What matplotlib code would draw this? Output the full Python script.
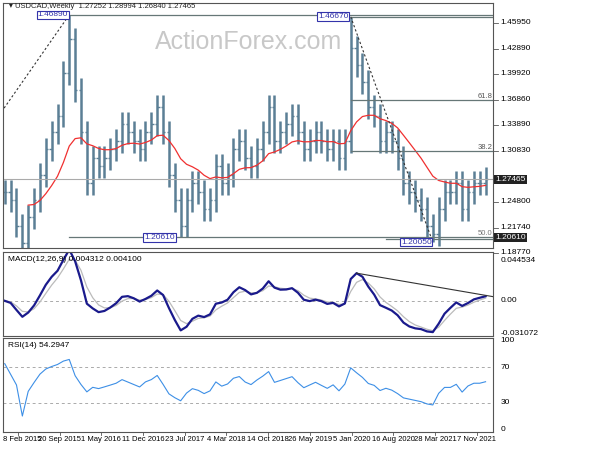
import matplotlib
matplotlib.use("Agg")
import matplotlib.pyplot as plt
import numpy as np
import pandas as pd

plt.rcParams['font.family'] = ['Liberation Sans', 'DejaVu Sans']

closes = [1.26,1.25,1.22,1.20,1.23,1.25,1.28,1.31,1.33,1.35,1.40,1.44,1.38,1.33,1.27,1.30,
          1.29,1.30,1.31,1.32,1.34,1.33,1.32,1.31,1.33,1.34,1.36,1.33,1.28,1.25,1.22,1.25,
          1.27,1.26,1.24,1.25,1.29,1.27,1.28,1.31,1.32,1.30,1.29,1.31,1.33,1.36,1.32,1.33,
          1.34,1.35,1.33,1.31,1.32,1.33,1.32,1.31,1.32,1.30,1.32,1.43,1.41,1.39,1.36,1.35,
          1.32,1.33,1.32,1.30,1.27,1.26,1.25,1.24,1.22,1.21,1.24,1.26,1.26,1.27,1.24,1.26,
          1.27,1.27,1.27465]
date_labels = ["8 Feb 2015","20 Sep 2015","1 May 2016","11 Dec 2016","23 Jul 2017","4 Mar 2018",
               "14 Oct 2018","26 May 2019","5 Jan 2020","16 Aug 2020","28 Mar 2021","7 Nov 2021"]
price_ticks = [1.45950,1.42890,1.39920,1.36860,1.33890,1.30830,1.27465,1.24800,1.21740,1.20610,1.18770]

c = np.array(closes)
o = np.r_[c[0], c[:-1]]
wick = 0.014
hi = np.maximum(o, c) + wick
lo = np.minimum(o, c) - wick
hi[11] = 1.4689; hi[59] = 1.4667; lo[30] = 1.2061; lo[73] = 1.2005; lo[3] = 1.192
n = len(c)
x = np.arange(n)
s = pd.Series(c)
ma = s.ewm(span=14, adjust=False).mean()
macd = s.ewm(span=4, adjust=False).mean() - s.ewm(span=9, adjust=False).mean()
sig = macd.ewm(span=3, adjust=False).mean()
d = s.diff().fillna(0)
up = d.clip(lower=0).ewm(alpha=1/7, adjust=False).mean()
dn = (-d.clip(upper=0)).ewm(alpha=1/7, adjust=False).mean()
rsi = 100 - 100/(1+up/(dn+1e-9))
rsi = 50 + (rsi - 50) * 0.7
rsi[0:3] = [74, 62, 50]

fig = plt.figure(figsize=(6, 4.5), dpi=100)
L, W = 0.005, 0.817
ax1 = fig.add_axes([L, 0.449, W, 0.544])
ax2 = fig.add_axes([L, 0.253, W, 0.187])
ax3 = fig.add_axes([L, 0.04, W, 0.209])
xl = (-0.3, n + 0.3)
bc = "#5b7f95"
for ax in (ax1, ax2, ax3):
    ax.set_xlim(*xl)
    ax.set_xticks([]); ax.set_yticks([])
    for sp in ax.spines.values():
        sp.set_color("#555555"); sp.set_linewidth(0.8)

ylo, yhi = 1.1936, 1.4828
ax1.set_ylim(ylo, yhi)
ax1.vlines(x, lo, hi, color=bc, lw=1.8)
ax1.hlines(o, x - 0.4, x, color=bc, lw=1)
ax1.hlines(c, x, x + 0.4, color=bc, lw=1)
ax1.plot(x[4:], ma[4:], color="#f03030", lw=0.9)
ax1.axhline(1.27465, color="#aaaaaa", lw=0.8)
ax1.plot([11, n + 1], [1.4689, 1.4689], color="#667777", lw=0.9)
ax1.plot([59, n + 1], [1.4667, 1.4667], color="#667777", lw=0.9)
ax1.plot([59, n + 1], [1.3686, 1.3686], color="#667777", lw=0.9)
ax1.plot([59, n + 1], [1.3083, 1.3083], color="#667777", lw=0.9)
ax1.plot([11, n + 1], [1.2061, 1.2061], color="#667777", lw=0.9)
ax1.plot([65, n + 1], [1.2045, 1.2045], color="#667777", lw=0.9)
ax1.plot([-1, 11], [1.35, 1.4689], color="#333333", lw=0.8, ls=(0, (2, 2)))
ax1.plot([59, 73], [1.4667, 1.2005], color="#333333", lw=0.8, ls=(0, (2, 2)))
bb = dict(boxstyle="square,pad=0.1", fc="white", ec="#3333aa", lw=0.8)
ax1.text(10.8, 1.4689, "1.46890", ha="right", va="center", fontsize=6, color="#3333aa", bbox=bb)
ax1.text(58.6, 1.4667, "1.46670", ha="right", va="center", fontsize=6, color="#3333aa", bbox=bb)
ax1.text(29, 1.2061, "1.20610", ha="right", va="center", fontsize=6, color="#3333aa", bbox=bb)
ax1.text(72.8, 1.2005, "1.20050", ha="right", va="center", fontsize=6, color="#3333aa", bbox=bb)
ax1.text(n + 0.2, 1.3686, "61.8", ha="right", va="bottom", fontsize=5.5, color="#555555")
ax1.text(n + 0.2, 1.3083, "38.2", ha="right", va="bottom", fontsize=5.5, color="#555555")
ax1.text(n + 0.2, 1.2061, "50.0", ha="right", va="bottom", fontsize=5.5, color="#777777")
ax1.text(0.5, 0.84, "ActionForex.com", transform=ax1.transAxes, ha="center", va="center",
         fontsize=18, color="#c8c8c8")
ax1.text(0.012, 1.0, "\u25be USDCAD,Weekly  1.27252 1.28994 1.26840 1.27465", transform=ax1.transAxes,
         ha="left", va="top", fontsize=5.5, color="#222222")
for p in price_ticks:
    yy = (p - ylo) / (yhi - ylo)
    if p in (1.27465, 1.20610):
        ax1.text(1.004, yy, f"{p:.5f}", transform=ax1.transAxes, ha="left", va="center", fontsize=6,
                 color="white", bbox=dict(boxstyle="square,pad=0.15", fc="#222222", ec="none"), clip_on=False)
    else:
        ax1.text(1.015, yy, f"{p:.5f}", transform=ax1.transAxes, ha="left", va="center", fontsize=6, clip_on=False)
        ax1.plot([1.0, 1.01], [yy, yy], transform=ax1.transAxes, color="#555555", lw=0.6, clip_on=False)

ax2.set_ylim(-0.034, 0.047)
ax2.axhline(0, color="#aaaaaa", lw=0.7, ls=(0, (3, 3)))
ax2.plot(x, sig, color="#bbbbbb", lw=0.9)
ax2.plot(x, macd, color="#1a1a8c", lw=1.6)
i0 = 60
ax2.plot([i0, n + 0.3], [macd[i0], 0.004], color="#333333", lw=0.8)
ax2.text(0.01, 0.95, "MACD(12,26,9) 0.004312 0.004100", transform=ax2.transAxes, ha="left", va="top", fontsize=6)
for v, t in [(0.039, "0.044534"), (0, "0.00"), (-0.031072, "-0.031072")]:
    ax2.text(1.015, (v + 0.034) / 0.081, t, transform=ax2.transAxes, ha="left", va="center", fontsize=6)

ax3.set_ylim(-3, 103)
for v in (30, 70):
    ax3.axhline(v, color="#aaaaaa", lw=0.7, ls=(0, (3, 3)))
ax3.plot(x, rsi, color="#3d8fe6", lw=0.8)
ax3.text(0.01, 0.96, "RSI(14) 54.2947", transform=ax3.transAxes, ha="left", va="top", fontsize=6)
for v in (100, 70, 30, 0):
    ax3.text(1.015, (v + 3) / 106, str(v), transform=ax3.transAxes, ha="left", va="center", fontsize=6)
px_per_unit = (W * 600) / (xl[1] - xl[0])
for k, lab in enumerate(date_labels):
    pxl = 18 + 41.7 * k
    xp = xl[0] + (pxl - L * 600) / px_per_unit
    if k == 0:
        ax3.text(xl[0], -8, lab, ha="left", va="top", fontsize=5.5, clip_on=False)
    else:
        ax3.text(xp, -8, lab, ha="center", va="top", fontsize=5.5, clip_on=False)
    ax3.plot([xp, xp], [-3, -6], color="#555555", lw=0.6, clip_on=False)

fig.savefig("out.png", dpi=100, facecolor="white")
